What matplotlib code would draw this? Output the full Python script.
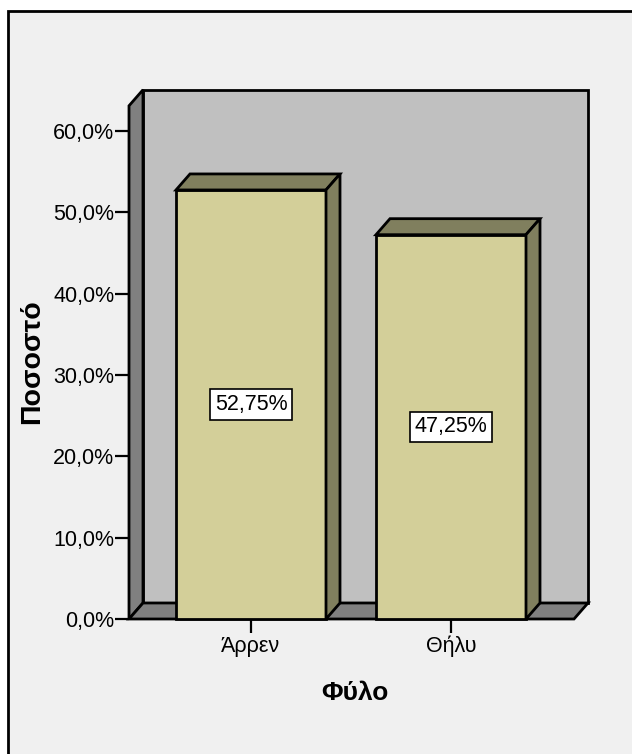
import matplotlib
matplotlib.use("Agg")
import matplotlib.pyplot as plt
from matplotlib.patches import Polygon, Rectangle
from matplotlib.ticker import FuncFormatter

# --- Daten ---
categories = ["Άρρεν", "Θήλυ"]
percent = [52.75, 47.25]
yticks = [0, 10, 20, 30, 40, 50, 60]
xlabel = "Φύλο"
ylabel = "Ποσοστό"

# --- Stil ---
plt.rcParams["font.family"] = ["Liberation Sans", "DejaVu Sans"]
front_col = "#d3cf99"
dark_col = "#807f5e"
wall_col = "#c0c0c0"
side_col = "#808080"
bg_col = "#f0f0f0"
bar_w = 0.75
dx, dy = 0.07, 1.97       # 3D-Tiefe in Datenkoordinaten
xmin, xmax = -0.61, 1.615
wall_top = 63.1

fig = plt.figure(figsize=(6.32, 7.54), dpi=100, facecolor="white")
# Rahmen des Diagrammbereichs
fig.patches.append(Rectangle((7.5 / 632, -0.1), 1.2, (754 - 10.5) / 754 + 0.1,
                             transform=fig.transFigure, facecolor=bg_col,
                             edgecolor="black", linewidth=2, zorder=-10))

ax = fig.add_axes([129 / 632, (754 - 619) / 754, 445 / 632, 488 / 754])
ax.set_xlim(xmin, xmax)
ax.set_ylim(0, 60)
ax.patch.set_visible(False)
for s in ax.spines.values():
    s.set_visible(False)

kw = dict(edgecolor="black", linewidth=2, joinstyle="miter", clip_on=False)
# Rueckwand, Seitenwand, Boden
ax.add_patch(Polygon([(xmin + dx, dy), (xmax + dx, dy), (xmax + dx, wall_top + dy),
                      (xmin + dx, wall_top + dy)], facecolor=wall_col, **kw))
ax.add_patch(Polygon([(xmin, 0), (xmin + dx, dy), (xmin + dx, wall_top + dy),
                      (xmin, wall_top)], facecolor=side_col, **kw))
ax.add_patch(Polygon([(xmin, 0), (xmax, 0), (xmax + dx, dy), (xmin + dx, dy)],
                     facecolor=side_col, **kw))

# Balken
for i, v in enumerate(percent):
    x0, x1 = i - bar_w / 2, i + bar_w / 2
    ax.add_patch(Polygon([(x0, 0), (x1, 0), (x1, v), (x0, v)], facecolor=front_col, zorder=3, **kw))
    ax.add_patch(Polygon([(x0, v), (x1, v), (x1 + dx, v + dy), (x0 + dx, v + dy)],
                         facecolor=dark_col, zorder=3, **kw))
    ax.add_patch(Polygon([(x1, 0), (x1 + dx, dy), (x1 + dx, v + dy), (x1, v)],
                         facecolor=dark_col, zorder=3, **kw))
    ax.text(i, v / 2, f"{v:.2f}%".replace(".", ","), ha="center", va="center",
            fontsize=15.5, zorder=4,
            bbox=dict(boxstyle="square,pad=0.22", facecolor="white", edgecolor="black", linewidth=1.2))

ax.set_xticks(range(len(categories)))
ax.set_xticklabels(categories)
ax.set_yticks(yticks)
ax.yaxis.set_major_formatter(FuncFormatter(lambda v, p: f"{v:.1f}%".replace(".", ",")))
ax.tick_params(axis="both", direction="out", length=10, width=1.6, labelsize=15.5, pad=0.5)
ax.tick_params(axis="x", pad=2)

ax.set_xlabel(xlabel, fontsize=19, fontweight="bold")
ax.set_ylabel(ylabel, fontsize=20.5, fontweight="bold")
ax.xaxis.label.set_va("center")
ax.yaxis.label.set_va("center")
ax.xaxis.set_label_coords((355 - 129) / 445, (619 - 693) / 488)
ax.yaxis.set_label_coords((32 - 129) / 445, (619 - 362) / 488)

fig.savefig("out.png", dpi=100, facecolor="white")
